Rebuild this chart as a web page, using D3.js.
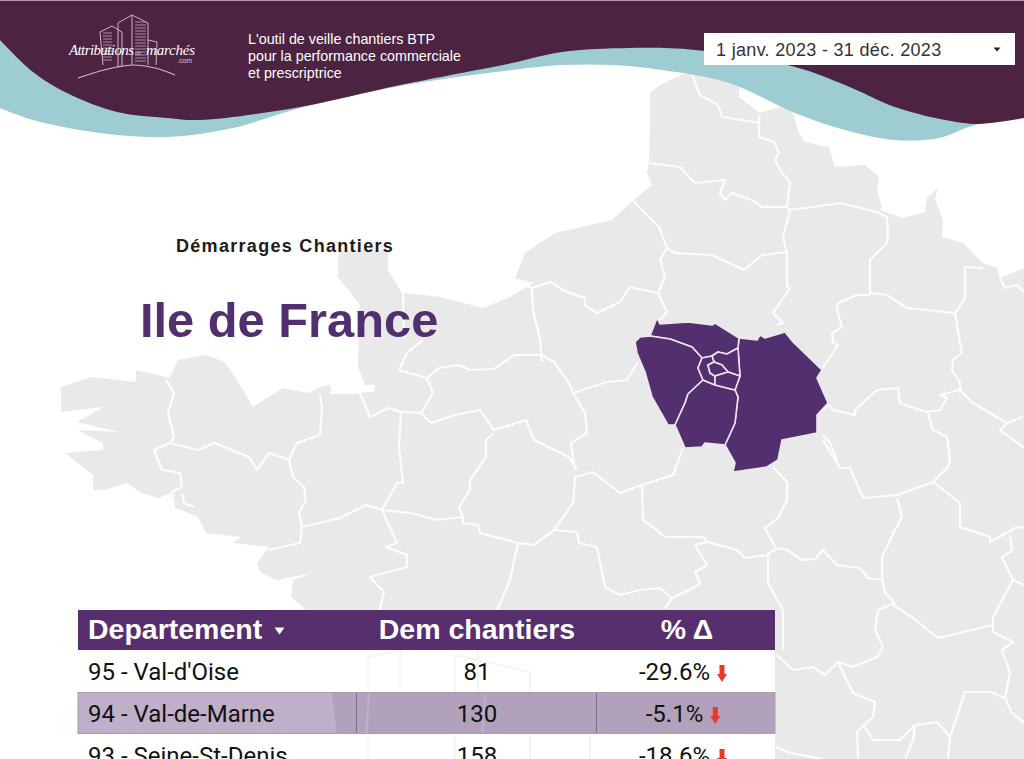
<!DOCTYPE html>
<html>
<head>
<meta charset="utf-8">
<script src="https://cdn.jsdelivr.net/npm/d3@7"></script>
<style>
  html, body { margin: 0; padding: 0; background: #fff; overflow: hidden; }
</style>
</head>
<body>
<div id="container"></div>
<script>
let w = 1024;
let h = 759;

// table values
let departements = ["95 - Val-d'Oise", "94 - Val-de-Marne", "93 - Seine-St-Denis"];
let demChantiers = [81, 130, 158];
let deltas = [-29.6, -5.1, -18.6];
let columns = ["Departement", "Dem chantiers", "% Δ"];

let tagline = ["L'outil de veille chantiers BTP", "pour la performance commerciale", "et prescriptrice"];
let dateRange = "1 janv. 2023 - 31 déc. 2023";
let subtitle = "Démarrages Chantiers";
let region = "Ile de France";

// map outlines, in map units
let landOutline = [[692,70],[739,85],[739,97],[752,107],[760,113],[779,107],[792,110],[799,133],[805,142],[829,147],[835,167],[865,165],[879,177],[877,190],[882,207],[880,210],[903,218],[925,212],[927,198],[938,188],[935,200],[943,220],[942,237],[963,243],[983,263],[997,268],[1000,278],[1024,268],[1024,759],[340,759],[330,680],[304,608],[291,597],[293,580],[312,573],[277,580],[261,573],[257,563],[269,547],[233,543],[241,537],[206,533],[198,517],[174,507],[170,493],[158,498],[142,493],[127,483],[105,490],[93,490],[93,475],[65,453],[103,450],[103,443],[77,430],[119,432],[77,422],[103,407],[61,412],[61,387],[91,377],[136,382],[136,370],[170,378],[178,360],[206,355],[225,362],[237,380],[253,407],[283,388],[308,393],[320,387],[330,385],[332,394],[374,392],[375,385],[365,385],[358,367],[360,305],[338,277],[338,260],[340,250],[388,250],[388,270],[402,293],[405,293],[440,297],[483,308],[510,297],[533,283],[515,278],[525,253],[555,233],[612,220],[634,200],[652,185],[647,173],[649,160],[650,133],[650,93],[660,85]];

let borderLines = [
  [[692,75],[700,95],[718,105],[722,117],[760,123]],
  [[759,115],[759,137],[774,142],[779,153],[775,160],[782,173],[790,182],[787,207],[790,212]],
  [[649,163],[680,167],[695,183],[725,180],[720,193],[725,200],[732,193],[752,200],[762,207],[787,207]],
  [[790,210],[827,205],[840,203],[877,212],[887,217],[888,233],[887,243],[870,260],[870,295]],
  [[790,210],[783,237],[787,253],[787,287],[790,288],[780,303],[773,313],[783,323],[777,325]],
  [[634,202],[659,227],[667,248],[660,260],[665,277],[658,293],[667,312],[658,322]],
  [[667,248],[675,253],[712,255],[744,270],[762,255],[787,252]],
  [[517,283],[532,288],[550,282],[567,292],[585,298],[585,305],[597,313],[620,302],[630,287],[658,293]],
  [[532,288],[533,310],[540,340],[542,362]],
  [[166,380],[174,393],[168,413],[174,437],[170,443]],
  [[154,450],[170,443],[198,450],[215,443],[249,457],[257,470],[269,453],[289,460]],
  [[154,450],[162,470],[180,473],[182,487],[172,492],[174,507]],
  [[182,493],[184,503],[194,507]],
  [[320,395],[322,407],[320,435],[297,443],[289,460],[293,477],[304,487],[306,500],[299,513],[302,527],[300,543],[269,550]],
  [[302,527],[340,518],[366,505],[382,510],[397,483],[403,483],[399,447],[401,412]],
  [[330,393],[360,393],[370,417],[389,408],[401,412],[421,413],[433,393],[427,378],[399,370],[407,353],[423,340]],
  [[403,293],[404,338]],
  [[427,378],[439,368],[459,365],[470,370],[494,369],[514,355],[542,355],[554,362],[569,383],[573,393],[585,413],[587,433],[571,443],[575,470]],
  [[573,393],[607,382],[627,380],[638,362]],
  [[421,413],[431,423],[455,415],[480,410],[494,430],[526,420],[534,440],[569,457],[577,470]],
  [[494,433],[486,440],[486,457],[470,480],[470,490],[459,507],[463,517],[437,520],[411,513],[382,510]],
  [[463,517],[463,523],[478,525],[480,533],[518,543],[534,545],[554,530],[573,503],[575,477],[593,472],[620,493],[642,485],[673,475],[683,448]],
  [[518,543],[510,580],[498,608],[490,640],[480,759]],
  [[554,530],[577,532],[579,543],[597,547],[605,587],[620,595],[640,590],[660,588],[672,598],[695,587],[700,583],[695,572],[707,565],[695,545],[707,542]],
  [[382,510],[397,543],[386,547],[407,555],[407,567],[370,577],[384,592],[380,608],[372,640],[365,759]],
  [[642,485],[643,520],[653,527],[665,537],[703,537],[708,542],[737,550],[745,558],[767,555],[777,548],[787,550],[802,560],[815,559],[823,550],[837,565],[860,568],[868,578],[882,580]],
  [[672,598],[665,608]],
  [[773,467],[787,482],[787,500],[778,518],[765,528],[775,547]],
  [[823,440],[840,468],[850,468],[863,498],[897,495],[933,482],[948,467],[950,460],[947,437],[933,430],[928,413]],
  [[897,498],[902,517],[895,530],[882,557],[882,577],[885,593],[895,603],[878,610],[875,630],[883,647],[877,657],[853,667],[838,662],[825,675],[813,667],[793,670],[777,655]],
  [[768,555],[768,583],[783,610],[783,650]],
  [[933,482],[960,503],[960,527],[990,537],[990,542],[1017,527],[1024,528]],
  [[1010,535],[1012,550],[1002,558],[1013,580],[993,617],[993,625],[938,638],[913,618],[893,605]],
  [[993,625],[993,632],[1013,642],[1002,650],[1010,673],[1005,698],[990,692],[965,692],[950,737],[948,759]],
  [[1013,580],[1024,585]],
  [[1005,698],[1012,713],[1024,723]],
  [[838,662],[853,693],[875,702],[873,717],[857,732],[858,759]],
  [[865,727],[873,740],[900,740],[915,725],[937,722],[950,737]],
  [[915,725],[913,740],[905,759]],
  [[776,747],[790,753],[823,759]],
  [[870,293],[887,295],[907,308],[955,313],[962,303],[965,297],[965,267],[983,268]],
  [[955,313],[960,343],[962,353],[953,360],[952,370],[960,383],[960,390],[940,395],[947,398],[940,410],[927,412],[920,410],[900,403],[898,388],[877,390],[855,410],[855,415],[833,410],[830,405],[817,413]],
  [[870,295],[857,295],[838,303],[837,310],[842,327],[832,333],[833,343],[838,345],[823,368]],
  [[960,390],[973,403],[1007,423],[1023,417]],
  [[1007,423],[1000,430],[1024,448]],
  [[823,435],[830,443],[837,460]],
  [[1000,278],[1005,288],[1017,285],[1024,292]]
];

let idfDepartments = [
  [[739,338],[757,340],[760,335],[765,338],[785,332],[793,342],[822,370],[817,378],[828,403],[817,415],[817,433],[782,440],[778,460],[767,467],[733,472],[735,463],[725,445],[735,423],[738,397],[735,390],[740,376],[739,363],[738,348]],
  [[657,318],[660,324],[688,322],[712,325],[715,323],[739,338],[738,348],[727,354],[718,352],[712,356],[702,358],[692,347],[670,339],[650,336]],
  [[635,342],[640,337],[650,336],[670,339],[692,347],[702,358],[698,368],[703,380],[688,394],[685,403],[675,425],[668,425],[652,397],[645,372],[637,353]],
  [[703,380],[715,385],[735,390],[738,397],[735,423],[725,445],[705,443],[702,447],[685,448],[675,425],[685,403],[688,394]],
  [[712,356],[718,352],[727,354],[738,348],[739,363],[740,376],[728,372],[722,365],[714,362]],
  [[702,358],[712,356],[714,362],[708,365],[710,373],[715,376],[715,385],[703,380],[698,368]],
  [[708,365],[714,362],[722,365],[728,372],[715,376],[710,373]],
  [[715,376],[728,372],[740,376],[735,390],[715,385]]
];

// the header wave
let darkEdge = [[0,40],[33,72],[67,93],[117,112],[167,118],[200,120],[300,107],[400,85],[512,63],[562,52],[629,48],[695,50],[795,67],[845,85],[895,107],[945,120],[979,124],[1024,118]];
let tealEdge = [[0,108],[33,120],[100,133],[167,137],[233,128],[300,108],[400,86],[512,70],[562,65],[612,65],[662,70],[729,83],[795,113],[845,130],[895,140],[939,138],[975,125],[1024,118]];

// faint building drawn behind the table
let watermark = [
  [[368,690],[368,657],[400,650]],
  [[400,650],[400,692]],
  [[455,692],[455,655],[530,672],[530,692]],
  [[478,650],[478,692]],
  [[368,735],[368,759]],
  [[455,735],[455,759]],
  [[530,735],[530,759]],
  [[590,735],[590,759]]
];

// logo sketch
let logoBuildings = [
  [[103,65],[100,32],[112,26],[122,32],[122,67]],
  [[118,66],[118,23],[132,15],[148,23],[148,65]],
  [[148,40],[157,42],[156,65]],
  [[132,15],[132,65]]
];
let logoHill = [[78,78],[100,71],[117,67],[133,65],[155,68],[175,75]];

let viz = d3.select("#container")
  .append("svg")
    .attr("width", w)
    .attr("height", h)
    .style("display", "block")
;

// map
let projection = d3.geoIdentity();
let mapPath = d3.geoPath(projection);
let mapGroup = viz.append("g").attr("class", "map");

mapGroup.append("path")
  .datum({type: "Polygon", coordinates: [landOutline.concat([landOutline[0]])]})
  .attr("d", mapPath)
  .attr("fill", "#eae9ea")
;
mapGroup.selectAll(".border").data(borderLines).enter()
  .append("path")
  .attr("class", "border")
  .attr("d", function(d){ return mapPath({type: "LineString", coordinates: d}); })
  .attr("fill", "none")
  .attr("stroke", "#fdfdfd")
  .attr("stroke-width", 2.2)
  .attr("stroke-linejoin", "round")
;
mapGroup.selectAll(".idf").data(idfDepartments).enter()
  .append("path")
  .attr("class", "idf")
  .attr("d", function(d){ return mapPath({type: "Polygon", coordinates: [d.concat([d[0]])]}); })
  .attr("fill", "#52306f")
  .attr("stroke", "#efe6ec")
  .attr("stroke-width", 1.6)
  .attr("stroke-linejoin", "round")
;

// wave
function waveArea(edge){
  return d3.area()
    .x(function(d){ return d[0]; })
    .y0(0)
    .y1(function(d){ return d[1]; })
    .curve(d3.curveCatmullRom)(edge);
}
viz.append("path").attr("d", waveArea(tealEdge)).attr("fill", "#9dcdd3");
viz.append("path").attr("d", waveArea(darkEdge)).attr("fill", "#4c2340");
viz.append("rect").attr("width", w).attr("height", 1).attr("fill", "#b89cb0");

// logo
let logo = viz.append("g").attr("class", "logo");
let logoLine = d3.line();
logo.selectAll(".building").data(logoBuildings).enter()
  .append("path")
  .attr("class", "building")
  .attr("d", logoLine)
  .attr("fill", "none")
  .attr("stroke", "#cdb6c8")
  .attr("stroke-width", 1)
;
logo.selectAll(".hatch").data(d3.range(22, 62, 3)).enter()
  .append("line")
  .attr("class", "hatch")
  .attr("x1", 135).attr("x2", 146)
  .attr("y1", function(d){ return d; })
  .attr("y2", function(d){ return d; })
  .attr("stroke", "#a98ea5")
  .attr("stroke-width", 1)
;
logo.selectAll(".hatch2").data(d3.range(33, 63, 3)).enter()
  .append("line")
  .attr("class", "hatch2")
  .attr("x1", 103).attr("x2", 112)
  .attr("y1", function(d){ return d; })
  .attr("y2", function(d){ return d; })
  .attr("stroke", "#a98ea5")
  .attr("stroke-width", 1)
;
logo.append("path")
  .attr("d", d3.line().curve(d3.curveCatmullRom)(logoHill))
  .attr("fill", "none")
  .attr("stroke", "#cdb6c8")
  .attr("stroke-width", 1.2)
;
logo.append("text").text("Attributions").attr("x", 69).attr("y", 55)
  .attr("font-family", "Liberation Serif").attr("font-style", "italic")
  .attr("font-size", 15).attr("fill", "#fff").attr("textLength", 65);
logo.append("text").text("de").attr("x", 135).attr("y", 55)
  .attr("font-family", "Liberation Serif").attr("font-style", "italic")
  .attr("font-size", 7).attr("fill", "#c9b5c6");
logo.append("text").text("marchés").attr("x", 146).attr("y", 55)
  .attr("font-family", "Liberation Serif").attr("font-style", "italic")
  .attr("font-size", 15).attr("fill", "#fff").attr("textLength", 49);
logo.append("text").text(".com").attr("x", 177).attr("y", 63)
  .attr("font-family", "Liberation Sans").attr("font-size", 7).attr("fill", "#d8c8d6");

// tagline
viz.selectAll(".tagline").data(tagline).enter()
  .append("text")
  .attr("class", "tagline")
  .text(function(d){ return d; })
  .attr("x", 248)
  .attr("y", function(d, i){ return 44 + i*16.8; })
  .attr("font-family", "Liberation Sans")
  .attr("font-size", 14.3)
  .attr("fill", "#fff")
;

// date selector
viz.append("rect").attr("x", 704).attr("y", 33).attr("width", 311).attr("height", 32).attr("fill", "#fff");
viz.append("text").text(dateRange).attr("x", 716).attr("y", 56)
  .attr("font-family", "Liberation Sans").attr("font-size", 18).attr("fill", "#333")
  .attr("letter-spacing", 0.32);
viz.append("path").attr("d", "M993.5,47.5h7l-3.5,4z").attr("fill", "#222");

// titles
viz.append("text").text(subtitle).attr("x", 176).attr("y", 252)
  .attr("font-family", "Liberation Sans").attr("font-weight", "bold").attr("font-size", 18)
  .attr("letter-spacing", 1.3).attr("fill", "#1c1c1c");
viz.append("text").text(region).attr("x", 140).attr("y", 337)
  .attr("font-family", "Liberation Sans").attr("font-weight", "bold").attr("font-size", 48.8)
  .attr("fill", "#52306f");

// table
let tableLeft = 78;
let tableRight = 775;
let headerTop = 610;
let headerBottom = 650;
let rowHeight = 42;
let yRow = d3.scaleBand()
  .domain(departements)
  .range([headerBottom, headerBottom + rowHeight*departements.length]);
let colEdges = [356.5, 596.5];
let xCenter = d3.scaleOrdinal().domain(columns).range([88, 477, 682]);
let xHead = d3.scaleOrdinal().domain(columns).range([88, 477, 687]);

let table = viz.append("g").attr("class", "table");

table.selectAll(".rowbg").data(departements).enter()
  .append("rect")
  .attr("class", "rowbg")
  .attr("x", tableLeft)
  .attr("width", tableRight - tableLeft)
  .attr("y", function(d){ return yRow(d); })
  .attr("height", rowHeight)
  .attr("fill", function(d, i){ return i == 1 ? "rgba(88,46,111,0.38)" : "#fff"; })
;
table.selectAll(".mark").data(watermark).enter()
  .append("path")
  .attr("class", "mark")
  .attr("d", logoLine)
  .attr("fill", "none")
  .attr("stroke", "#f5f4f6")
  .attr("stroke-width", 2)
;
// the hovered row has separators and a thin outline
table.selectAll(".sep").data(colEdges).enter()
  .append("line")
  .attr("class", "sep")
  .attr("x1", function(d){ return d; })
  .attr("x2", function(d){ return d; })
  .attr("y1", yRow(departements[1]))
  .attr("y2", yRow(departements[1]) + rowHeight)
  .attr("stroke", "#7d6d8a")
  .attr("stroke-width", 1)
;
table.append("rect")
  .attr("x", tableLeft).attr("width", tableRight - tableLeft)
  .attr("y", yRow(departements[1]) + 0.5).attr("height", rowHeight - 1)
  .attr("fill", "none").attr("stroke", "#a99cb2").attr("stroke-width", 1);

table.append("rect")
  .attr("x", tableLeft).attr("y", headerTop)
  .attr("width", tableRight - tableLeft).attr("height", headerBottom - headerTop)
  .attr("fill", "#572e6e");

table.selectAll(".head").data(columns).enter()
  .append("text")
  .attr("class", "head")
  .text(function(d){ return d; })
  .attr("x", function(d){ return xHead(d); })
  .attr("y", 639)
  .attr("text-anchor", function(d, i){ return i == 0 ? "start" : "middle"; })
  .attr("font-family", "Liberation Sans")
  .attr("font-weight", "bold")
  .attr("font-size", 28.5)
  .attr("fill", "#fff")
;
table.append("path").attr("d", "M274.5,627.5h10l-5,7z").attr("fill", "#fff");

let rows = table.selectAll(".row").data(departements).enter()
  .append("g")
  .attr("class", "row")
  .attr("transform", function(d){ return "translate(0," + (yRow(d) + 30) + ")"; })
;
rows.append("text")
  .text(function(d){ return d; })
  .attr("x", xCenter(columns[0]))
  .attr("font-family", "Roboto").attr("font-size", 24).attr("fill", "#111")
;
rows.append("text")
  .text(function(d, i){ return demChantiers[i]; })
  .attr("x", xCenter(columns[1]))
  .attr("text-anchor", "middle")
  .attr("font-family", "Roboto").attr("font-size", 24).attr("fill", "#111")
;
let deltaText = rows.append("text")
  .text(function(d, i){ return deltas[i].toFixed(1) + "%"; })
  .attr("font-family", "Roboto").attr("font-size", 24).attr("fill", "#111")
;
// text and arrow are centered together in the cell
deltaText.each(function(){
  let len = this.getComputedTextLength();
  let start = xCenter(columns[2]) - (len + 15)/2;
  d3.select(this).attr("x", start);
  d3.select(this.parentNode).append("path")
    .attr("d", "M-2.5,-15h5v9h2.5l-5,8l-5,-8h2.5z")
    .attr("transform", "translate(" + (start + len + 12) + ",0)")
    .attr("fill", "#e8392b");
});
</script>
</body>
</html>
